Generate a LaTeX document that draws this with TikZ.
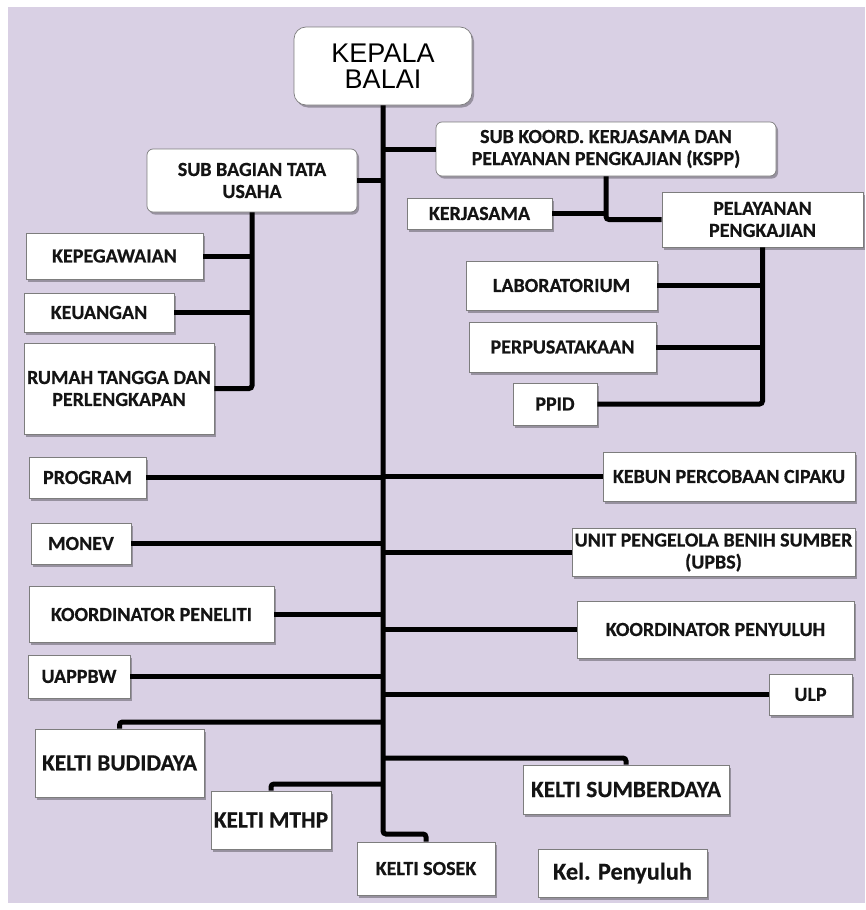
\documentclass[tikz,border=0pt]{standalone}
\usepackage{fontspec}
\setmainfont{Carlito}[BoldFeatures={FakeBold=0.5}]
\newfontfamily\headfont{Liberation Sans}
\usetikzlibrary{shadows}
\definecolor{bglav}{RGB}{217,208,228}
\definecolor{boxline}{RGB}{125,125,125}
\definecolor{txt}{RGB}{20,20,20}
\tikzset{
  box/.style={draw=boxline, line width=0.7pt, fill=white, align=center, inner sep=0pt,
    text=txt, font=\fontsize{20}{22}\selectfont\bfseries,
    drop shadow={shadow xshift=2pt, shadow yshift=-2.5pt, fill=black, opacity=0.3}},
  sz/.style 2 args={minimum width=#1pt, minimum height=#2pt},
  conn/.style={line width=5pt, black, rounded corners=3pt}
}
\begin{document}
\begin{tikzpicture}[x=1pt,y=-1pt]
\useasboundingbox (0,0) rectangle (865,910);
\fill[white] (0,0) rectangle (865,910);
\fill[bglav] (8,7) rectangle (865,903);

% top
\node[box, sz={178}{78}, rounded corners=12pt, font=\headfont\fontsize{27}{26}\selectfont, text=black] (kepala) at (383,66) {KEPALA\\BALAI};

% left admin branch
\node[box, sz={210}{63}, rounded corners=6pt] (sbtu) at (252,180.5) {SUB BAGIAN TATA\\USAHA};
\node[box, sz={177}{46}] (kepeg) at (114.5,256) {KEPEGAWAIAN};
\node[box, sz={150}{39}] (keu) at (99,312.5) {KEUANGAN};
\node[box, sz={190}{91}] (rumah) at (119,388.5) {RUMAH TANGGA DAN\\PERLENGKAPAN};

% right KSPP branch
\node[box, sz={340}{54}, rounded corners=6pt] (kspp) at (606,149) {SUB KOORD. KERJASAMA DAN\\PELAYANAN PENGKAJIAN (KSPP)};
\node[box, sz={145}{31}] (kerja) at (479.5,213.5) {KERJASAMA};
\node[box, sz={201}{55}] (pelay) at (762.5,219.5) {PELAYANAN\\PENGKAJIAN};
\node[box, sz={191}{49}] (lab) at (561.5,285.5) {LABORATORIUM};
\node[box, sz={187}{50}] (perpus) at (562.5,347) {PERPUSATAKAAN};
\node[box, sz={84}{42}] (ppid) at (555,404) {PPID};

% middle rows
\node[box, sz={117}{41}] (prog) at (87.5,477.5) {PROGRAM};
\node[box, sz={252}{49}] (kebun) at (729,476.5) {KEBUN PERCOBAAN CIPAKU};
\node[box, sz={100}{41}] (monev) at (81,543.5) {MONEV};
\node[box, sz={283}{48}] (upbs) at (713.5,552.5) {UNIT PENGELOLA BENIH SUMBER\\(UPBS)};
\node[box, sz={245}{56}] (kpen) at (151.5,614.5) {KOORDINATOR PENELITI};
\node[box, sz={277}{57}] (kpyl) at (715.5,629.5) {KOORDINATOR PENYULUH};
\node[box, sz={102}{43}] (uap) at (79,676.5) {UAPPBW};
\node[box, sz={83}{41}] (ulp) at (810.5,694.5) {ULP};

% bottom groups
\node[box, sz={169}{68}, font=\fontsize{23.3}{24}\selectfont\bfseries] (bud) at (119.5,763) {KELTI BUDIDAYA};
\node[box, sz={120}{58}, font=\fontsize{23.3}{24}\selectfont\bfseries] (mthp) at (271,820) {KELTI MTHP};
\node[box, sz={206}{49}, font=\fontsize{23.3}{24}\selectfont\bfseries] (sumb) at (626,789.5) {KELTI SUMBERDAYA};
\node[box, sz={138}{53}, font=\fontsize{20}{22}\selectfont\bfseries] (sosek) at (426,868.5) {KELTI SOSEK};
\node[box, sz={169}{48}, font=\fontsize{24.3}{26}\selectfont\bfseries] (kpyh) at (622.5,873) {Kel. Penyuluh};

% junctions on the spine
\coordinate (jbud) at (383,722);
\coordinate (jsum) at (383,758);
\coordinate (jmth) at (383,784);
\coordinate (jsos) at (383,834);

% spine
\draw[conn] (kepala.south) -- (jsos) -| (sosek.north);

% branches off the spine
\draw[conn] (sbtu.east) -- (sbtu.east -| kepala.south);
\draw[conn] (kspp.west) -- (kspp.west -| kepala.south);
\draw[conn] (prog.east) -- (prog.east -| kepala.south);
\draw[conn] (kebun.west) -- (kebun.west -| kepala.south);
\draw[conn] (monev.east) -- (monev.east -| kepala.south);
\draw[conn] (upbs.west) -- (upbs.west -| kepala.south);
\draw[conn] (kpen.east) -- (kpen.east -| kepala.south);
\draw[conn] (kpyl.west) -- (kpyl.west -| kepala.south);
\draw[conn] (uap.east) -- (uap.east -| kepala.south);
\draw[conn] (ulp.west) -- (ulp.west -| kepala.south);
\draw[conn] (jbud) -| (bud.north);
\draw[conn] (jsum) -| (sumb.north);
\draw[conn] (jmth) -| (mthp.north);

% admin sub-branch
\draw[conn] (sbtu.south) |- (rumah.east);
\draw[conn] (kepeg.east) -- (kepeg.east -| sbtu.south);
\draw[conn] (keu.east) -- (keu.east -| sbtu.south);

% KSPP sub-branch
\draw[conn] (kspp.south) |- (pelay.west);
\draw[conn] (kerja.east) -- (kerja.east -| kspp.south);
\draw[conn] (pelay.south) |- (ppid.east);
\draw[conn] (lab.east) -- (lab.east -| pelay.south);
\draw[conn] (perpus.east) -- (perpus.east -| pelay.south);
\end{tikzpicture}
\end{document}
